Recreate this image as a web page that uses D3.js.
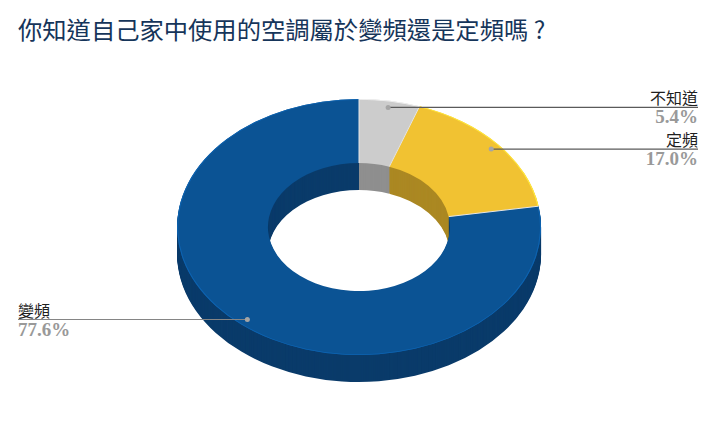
<!DOCTYPE html>
<html>
<head>
<meta charset="utf-8">
<script src="https://cdnjs.cloudflare.com/ajax/libs/d3/7.8.5/d3.min.js"></script>
<style>
  html, body { margin: 0; padding: 0; background: #fff; }
  svg { display: block; }
</style>
</head>
<body>
<svg id="chart" width="720" height="444"></svg>
<script>
const title = '你知道自己家中使用的空調屬於變頻還是定頻嗎 ?';
const categories = ['不知道', '定頻', '變頻'];
const values = [5.4, 17.0, 77.6];
const topColors = ['#cccccc', '#f1c232', '#0b5394'];
const wallColors = ['#8f8f8f', '#ab8823', '#0a3b6a'];

const cx = 359;
const cy = 227;
const rx = 182;
const ry = 128;
const depth = 27;
const innerRatio = 0.5;

const svg = d3.select('#chart');

svg.append('text')
  .text(title)
  .attr('x', 18)
  .attr('y', 39)
  .attr('fill', '#16355a')
  .style('font-family', '"Noto Sans CJK TC"')
  .style('font-size', '24.3px');

const slices = d3.pie().sort(null)(values);

// unit ring, squashed into an ellipse by the group transform
const ring = d3.arc().innerRadius(innerRatio).outerRadius(1);
const rim = d3.arc().innerRadius(0.994).outerRadius(1);
const anchor = d3.arc().innerRadius(0.948).outerRadius(0.948);

const pie = svg.append('g');

// the sides are the ring repeated downwards, darker
d3.range(depth, 0, -1).forEach((d) => {
  pie.append('g')
    .attr('transform', `translate(${cx},${cy + d}) scale(${rx},${ry})`)
    .selectAll('path')
    .data(slices)
    .join('path')
    .attr('d', ring)
    .attr('fill', (s) => wallColors[s.index]);
});

const face = pie.append('g')
  .attr('transform', `translate(${cx},${cy}) scale(${rx},${ry})`);

face.selectAll('path.face')
  .data(slices)
  .join('path')
  .attr('class', 'face')
  .attr('d', ring)
  .attr('fill', (s) => topColors[s.index]);

face.selectAll('path.rim')
  .data(slices)
  .join('path')
  .attr('class', 'rim')
  .attr('d', rim)
  .attr('fill', (s) => d3.color(topColors[s.index]).brighter(0.5));

// pale seams between the slices
face.selectAll('line')
  .data(slices)
  .join('line')
  .attr('x1', (s) => d3.pointRadial(s.startAngle, innerRatio)[0])
  .attr('y1', (s) => d3.pointRadial(s.startAngle, innerRatio)[1])
  .attr('x2', (s) => d3.pointRadial(s.startAngle, 1)[0])
  .attr('y2', (s) => d3.pointRadial(s.startAngle, 1)[1])
  .attr('stroke', '#e6e6e6')
  .attr('stroke-width', 1)
  .attr('vector-effect', 'non-scaling-stroke');

const labelFont = '"Noto Sans CJK TC"';
const valueFont = '"Liberation Serif"';

svg.append('g')
  .selectAll('g')
  .data(slices)
  .join('g')
  .each(function (s) {
    const [ax, ay] = anchor.centroid(s);
    const px = cx + ax * rx;
    const py = cy + ay * ry;
    const onLeft = px < cx;
    const endX = onLeft ? 18 : 698;
    const g = d3.select(this);

    g.append('line')
      .attr('x1', px)
      .attr('y1', py)
      .attr('x2', endX)
      .attr('y2', py)
      .attr('stroke', onLeft ? '#858585' : '#5a5a5a')
      .attr('stroke-width', 1.2);

    g.append('circle')
      .attr('cx', px)
      .attr('cy', py)
      .attr('r', 2.5)
      .attr('fill', '#a5a5a5');

    g.append('text')
      .text(categories[s.index])
      .attr('x', endX)
      .attr('y', py - 3)
      .attr('text-anchor', onLeft ? 'start' : 'end')
      .attr('fill', '#1f1f1f')
      .style('font-family', labelFont)
      .style('font-size', '16px');

    g.append('text')
      .text(`${values[s.index].toFixed(1)}%`)
      .attr('x', endX)
      .attr('y', py + 16)
      .attr('text-anchor', onLeft ? 'start' : 'end')
      .attr('fill', '#999999')
      .style('font-family', valueFont)
      .style('font-weight', 'bold')
      .style('font-size', '19px');
  });
</script>
</body>
</html>
